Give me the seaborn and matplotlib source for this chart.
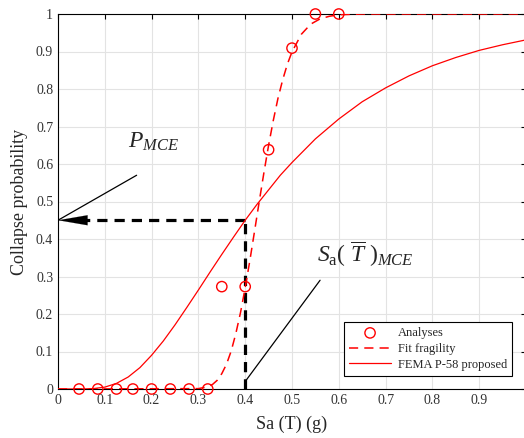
# collapse fragility plot: analyses vs fitted curve vs FEMA P-58

import numpy as np
import matplotlib
matplotlib.use("Agg")
import matplotlib.pyplot as plt
import seaborn as sns
import pandas as pd

# analysis results
sa_points = [0.045, 0.085, 0.125, 0.16, 0.20, 0.24, 0.28, 0.32, 0.35, 0.40, 0.45, 0.50, 0.55, 0.60]
p_points = [0, 0, 0, 0, 0, 0, 0, 0, 0.273, 0.273, 0.638, 0.909, 1.0, 1.0]

# fitted fragility
sa_fit = [0.0, 0.30, 0.32, 0.33, 0.34, 0.35, 0.36, 0.37, 0.38, 0.39, 0.40, 0.41, 0.42, 0.43,
          0.44, 0.45, 0.46, 0.47, 0.48, 0.49, 0.50, 0.52, 0.54, 0.56, 0.58, 0.60, 0.65, 1.0]
p_fit = [0.0, 0.001, 0.006, 0.012, 0.023, 0.041, 0.066, 0.101, 0.148, 0.204, 0.270, 0.343, 0.421, 0.500,
         0.577, 0.650, 0.716, 0.775, 0.824, 0.866, 0.899, 0.946, 0.973, 0.987, 0.994, 0.998, 1.0, 1.0]

# FEMA P-58 proposed curve
sa_fema = [0.0, 0.05, 0.075, 0.10, 0.125, 0.15, 0.175, 0.20, 0.225, 0.25, 0.275, 0.30, 0.325, 0.35,
           0.375, 0.40, 0.425, 0.45, 0.475, 0.50, 0.55, 0.60, 0.65, 0.70, 0.75, 0.80, 0.85, 0.90, 0.95, 1.0]
p_fema = [0.0, 0.0001, 0.001, 0.005, 0.015, 0.032, 0.057, 0.090, 0.128, 0.171, 0.217, 0.264, 0.312, 0.359,
          0.405, 0.450, 0.492, 0.531, 0.570, 0.604, 0.667, 0.720, 0.766, 0.803, 0.835, 0.862, 0.884, 0.903, 0.918, 0.931]

# MCE marker
sa_mce = 0.40
p_mce = 0.45
p_leader = ([0.0, 0.168], [0.45, 0.57])
sa_leader = ([0.40, 0.56], [0.02, 0.29])

x_ticks = [0, 0.1, 0.2, 0.3, 0.4, 0.5, 0.6, 0.7, 0.8, 0.9]
x_tick_labels = ["0", "0.1", "0.2", "0.3", "0.4", "0.5", "0.6", "0.7", "0.8", "0.9"]
y_ticks = [0, 0.1, 0.2, 0.3, 0.4, 0.5, 0.6, 0.7, 0.8, 0.9, 1.0]
y_tick_labels = ["0", "0.1", "0.2", "0.3", "0.4", "0.5", "0.6", "0.7", "0.8", "0.9", "1"]

sns.set_style("white")
plt.rcParams["font.family"] = ["Liberation Serif", "DejaVu Serif"]
plt.rcParams["mathtext.fontset"] = "custom"
plt.rcParams["mathtext.rm"] = "Liberation Serif"
plt.rcParams["mathtext.it"] = "Liberation Serif:italic"
plt.rcParams["xtick.direction"] = "in"
plt.rcParams["ytick.direction"] = "in"

fig = plt.figure(figsize=(5.24, 4.38), dpi=100)
ax = fig.add_axes([58 / 524, 49 / 438, 468 / 524, 375 / 438])

red = "#ff0000"
df_pts = pd.DataFrame({"sa": sa_points, "p": p_points})
df_fit = pd.DataFrame({"sa": sa_fit, "p": p_fit})
df_fema = pd.DataFrame({"sa": sa_fema, "p": p_fema})

# black dashed MCE guide with arrow
ax.plot([sa_mce, sa_mce], [0, p_mce], color="black", lw=2.3, ls=(0, (3.2, 2.2)), zorder=3)
ax.plot([sa_mce, 0.06], [p_mce, p_mce], color="black", lw=2.3, ls=(0, (3.2, 2.2)), zorder=3)
ax.annotate("", xy=(0, p_mce), xytext=(0.066, p_mce),
            arrowprops=dict(arrowstyle="-|>,head_length=1.4,head_width=0.24",
                            mutation_scale=15, color="black", lw=0.1, shrinkA=0, shrinkB=0),
            zorder=4)

sns.lineplot(data=df_fit, x="sa", y="p", ax=ax, color=red, lw=1.1, ls=(0, (6, 4)),
             label="Fit fragility", zorder=5)
sns.lineplot(data=df_fema, x="sa", y="p", ax=ax, color=red, lw=0.9,
             label="FEMA P-58 proposed", zorder=5)
sns.scatterplot(data=df_pts, x="sa", y="p", ax=ax, marker="o", s=55, facecolors="none",
                edgecolor=red, linewidth=1.0, label="Analyses", zorder=6, clip_on=False)

# leader lines and labels
ax.plot(*p_leader, color="black", lw=0.9, zorder=3)
ax.plot(*sa_leader, color="black", lw=0.9, zorder=3)
ax.text(0.150, 0.643, r"$P_{MCE}$", fontsize=17, ha="left", va="baseline")
ax.text(0.553, 0.339, r"$S_{\mathrm{a}}\mathrm{(}\ \overline{T}\ \mathrm{)}_{MCE}$",
        fontsize=17, ha="left", va="baseline")

ax.set_xlim(0, 1)
ax.set_ylim(0, 1)
ax.set_xticks(x_ticks)
ax.set_xticklabels(x_tick_labels)
ax.set_yticks(y_ticks)
ax.set_yticklabels(y_tick_labels)
ax.tick_params(axis="both", labelsize=10, length=3.5, width=0.8, color="black",
               top=True, right=True, labelcolor="#333333")
ax.grid(True, color="#e3e3e3", lw=0.8)
for sp in ax.spines.values():
    sp.set_color("black")
    sp.set_linewidth(0.8)

ax.set_xlabel("Sa (T) (g)", fontsize=13, labelpad=6)
ax.set_ylabel("Collapse probability", fontsize=13, labelpad=6)

handles, labels = ax.get_legend_handles_labels()
order = [labels.index("Analyses"), labels.index("Fit fragility"), labels.index("FEMA P-58 proposed")]
leg = ax.legend([handles[i] for i in order], [labels[i] for i in order],
                loc="lower right", bbox_to_anchor=(0.971, 0.0355), borderaxespad=0,
                fontsize=9, fancybox=False, edgecolor="black", framealpha=1,
                handlelength=3.3, handletextpad=0.6, labelspacing=0.3)
leg.get_frame().set_linewidth(0.8)

fig.savefig("out.png", dpi=100)
